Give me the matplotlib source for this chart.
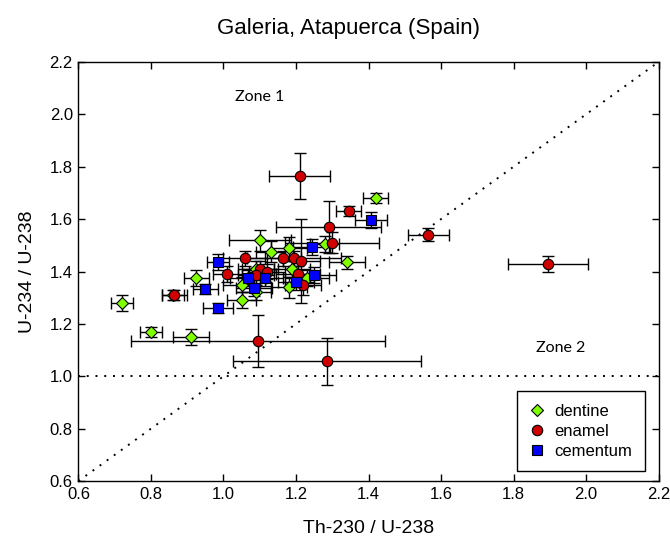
import matplotlib
matplotlib.use("Agg")
import matplotlib.pyplot as plt

# ---- data ----
dentine_x = [0.72, 0.80, 0.91, 0.86, 0.925, 1.10, 1.13, 1.05, 1.09, 1.05, 1.18, 1.28, 1.42, 1.34, 1.19, 1.23, 1.18, 1.09]
dentine_y = [1.28, 1.17, 1.15, 1.31, 1.375, 1.52, 1.475, 1.29, 1.32, 1.35, 1.49, 1.505, 1.68, 1.435, 1.41, 1.375, 1.34, 1.41]
dentine_xerr = [0.03, 0.03, 0.05, 0.03, 0.035, 0.085, 0.04, 0.04, 0.04, 0.05, 0.05, 0.04, 0.035, 0.05, 0.05, 0.06, 0.05, 0.05]
dentine_yerr = [0.03, 0.02, 0.03, 0.02, 0.03, 0.04, 0.04, 0.03, 0.03, 0.03, 0.04, 0.03, 0.02, 0.025, 0.03, 0.03, 0.04, 0.03]

enamel_x = [0.865, 1.01, 1.06, 1.10, 1.09, 1.21, 1.345, 1.29, 1.30, 1.195, 1.215, 1.165, 1.205, 1.22, 1.565, 1.895, 1.095, 1.285, 1.12]
enamel_y = [1.31, 1.39, 1.45, 1.41, 1.385, 1.765, 1.63, 1.57, 1.51, 1.45, 1.44, 1.45, 1.39, 1.35, 1.54, 1.43, 1.135, 1.058, 1.40]
enamel_xerr = [0.035, 0.04, 0.06, 0.05, 0.05, 0.085, 0.035, 0.145, 0.13, 0.13, 0.05, 0.05, 0.06, 0.05, 0.057, 0.11, 0.35, 0.26, 0.05]
enamel_yerr = [0.02, 0.03, 0.03, 0.03, 0.03, 0.087, 0.02, 0.10, 0.04, 0.03, 0.16, 0.03, 0.03, 0.04, 0.025, 0.03, 0.10, 0.09, 0.03]

cementum_x = [0.95, 0.985, 0.985, 1.067, 1.084, 1.114, 1.243, 1.407, 1.251, 1.201]
cementum_y = [1.333, 1.26, 1.436, 1.375, 1.337, 1.375, 1.493, 1.596, 1.386, 1.36]
cementum_xerr = [0.035, 0.04, 0.03, 0.05, 0.05, 0.05, 0.05, 0.045, 0.06, 0.05]
cementum_yerr = [0.02, 0.02, 0.03, 0.03, 0.03, 0.03, 0.03, 0.03, 0.03, 0.03]

ticks = [0.6, 0.8, 1.0, 1.2, 1.4, 1.6, 1.8, 2.0, 2.2]

plt.rcParams['font.family'] = ['Liberation Sans', 'DejaVu Sans']

fig = plt.figure(figsize=(6.7, 5.43), dpi=100)
ax = fig.add_axes([0.117, 0.114, 0.866, 0.772])

# reference lines
ax.plot([0.6, 2.2], [0.6, 2.2], color='black', linestyle=(0, (1, 3.5)), linewidth=1.4, zorder=1)
ax.plot([0.6, 2.2], [1.0, 1.0], color='black', linestyle=(0, (1, 3.5)), linewidth=1.4, zorder=1)

eb = dict(fmt='none', ecolor='black', elinewidth=1.0, capsize=4, capthick=1.0, zorder=2)
ax.errorbar(dentine_x, dentine_y, xerr=dentine_xerr, yerr=dentine_yerr, **eb)
ax.errorbar(enamel_x, enamel_y, xerr=enamel_xerr, yerr=enamel_yerr, **eb)
ax.errorbar(cementum_x, cementum_y, xerr=cementum_xerr, yerr=cementum_yerr, **eb)

ax.plot(dentine_x, dentine_y, linestyle='none', marker='D', markersize=6,
        markerfacecolor='#80FF00', markeredgecolor='black', markeredgewidth=0.8,
        zorder=3, label='dentine')
ax.plot(enamel_x, enamel_y, linestyle='none', marker='o', markersize=7.5,
        markerfacecolor='#D00000', markeredgecolor='black', markeredgewidth=0.8,
        zorder=4, label='enamel')
ax.plot(cementum_x, cementum_y, linestyle='none', marker='s', markersize=6.5,
        markerfacecolor='#0000FF', markeredgecolor='black', markeredgewidth=0.8,
        zorder=5, label='cementum')

ax.set_xlim(0.6, 2.2)
ax.set_ylim(0.6, 2.2)
ax.set_xticks(ticks)
ax.set_yticks(ticks)
ax.set_xticklabels([f"{t:.1f}" for t in ticks])
ax.set_yticklabels([f"{t:.1f}" for t in ticks])
ax.tick_params(direction='in', length=5, width=1, top=True, right=True,
               labelsize=12, pad=4, colors='black')
for s in ax.spines.values():
    s.set_linewidth(1.0)

ax.set_xlabel('Th-230 / U-238', fontsize=14, labelpad=13)
ax.set_ylabel('U-234 / U-238', fontsize=14, labelpad=10)
fig.text(0.52, 0.948, 'Galeria, Atapuerca (Spain)', fontsize=16, ha='center', va='center')

ax.text(1.10, 2.065, 'Zone 1', fontsize=11.5, ha='center', va='center', family=['Lato', 'DejaVu Sans'])
ax.text(1.93, 1.108, 'Zone 2', fontsize=11.5, ha='center', va='center', family=['Lato', 'DejaVu Sans'])

leg = ax.legend(loc='lower right', bbox_to_anchor=(0.985, 0.012), fontsize=12,
                frameon=True, fancybox=False, edgecolor='black', framealpha=1,
                handletextpad=0.6, borderpad=0.75, labelspacing=0.3, handlelength=0.9,
                borderaxespad=0.3)
leg.get_frame().set_linewidth(1.0)

fig.savefig('out.png', dpi=100)
